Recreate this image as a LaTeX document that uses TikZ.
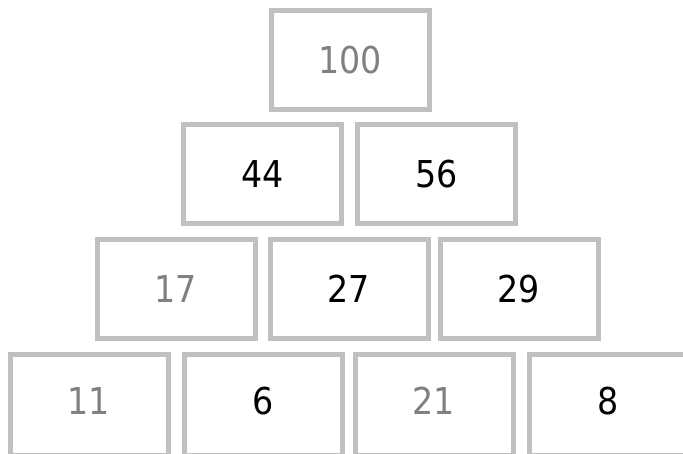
\documentclass[tikz,border=0pt]{standalone}
\usepackage{fontspec}
\setmainfont{DejaVu Sans Condensed}
\usetikzlibrary{positioning}
\definecolor{cellborder}{RGB}{192,192,192}
\definecolor{greytext}{RGB}{128,128,128}

\begin{document}
\begin{tikzpicture}[
  x=1pt, y=-1pt,
  cell/.style={rectangle, draw=cellborder, line width=5pt, fill=white, minimum width=158pt, minimum height=99pt, inner sep=0pt, font=\fontsize{37}{37}\selectfont},
  given/.style={cell, text=greytext},
  found/.style={cell, text=black},
  base/.style={minimum height=101pt, text depth=8pt}
]
\useasboundingbox (0,0) rectangle (683,454);

% Top row
\node[given] (top) at (350,60) {100};

% Second row
\node[found] (r2a) at (262.5,174.5) {44};
\node[found, right=11pt of r2a] (r2b) {56};

% Third row
\node[given] (r3a) at (176,289) {17};
\node[found, right=10pt of r3a] (r3b) {27};
\node[found, right=7pt of r3b] (r3c) {29};

% Bottom row (runs off the lower edge)
\node[given, base] (r4a) at (89,405) {11};
\node[found, base, right=11pt of r4a] (r4b) {6};
\node[given, base, right=8pt of r4b] (r4c) {21};
\node[found, base, right=11pt of r4c] (r4d) {8};

\end{tikzpicture}
\end{document}
